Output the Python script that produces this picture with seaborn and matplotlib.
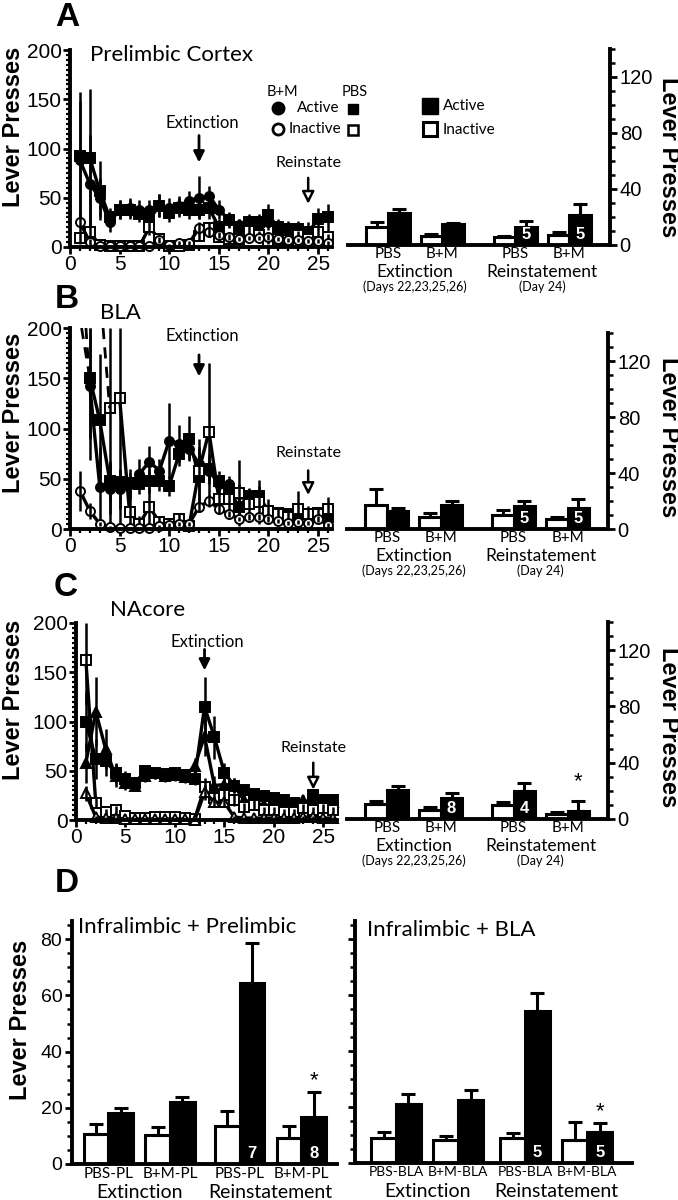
import numpy as np
import pandas as pd
import matplotlib
matplotlib.use("Agg")
import matplotlib.pyplot as plt
from matplotlib.ticker import MultipleLocator
import seaborn as sns

# ---------------- data ----------------
days = list(range(1, 27))

# Panel A - prelimbic cortex
pl_pbs_act = [92, 90, 57, 30, 38, 38, 33, 28, 42, 35, 40, 38, 38, 40, 20, 27, 20, 25, 25, 32, 20, 18, 18, 15, 28, 30]
pl_pbs_act_err = [65, 70, 30, 10, 10, 10, 8, 10, 12, 10, 10, 10, 10, 12, 8, 8, 8, 8, 8, 12, 8, 8, 8, 10, 12, 14]
pl_bm_act = [88, 64, 50, 25, 38, 40, 38, 38, 42, 40, 42, 47, 50, 52, 38, 28, 22, 22, 22, 25, 18, 16, 15, 10, 12, 10]
pl_bm_act_err = [60, 50, 20, 10, 10, 10, 10, 10, 12, 10, 10, 10, 22, 10, 10, 8, 6, 6, 6, 8, 5, 5, 5, 5, 5, 5]
pl_pbs_inact = [9, 15, 2, 1, 1, 1, 1, 20, 8, 1, 1, 2, 11, 19, 10, 8, 8, 16, 12, 5, 8, 7, 12, 8, 15, 10]
pl_pbs_inact_err = [6, 8, 1, 1, 1, 1, 1, 8, 3, 1, 1, 1, 4, 5, 3, 3, 3, 5, 4, 2, 3, 3, 4, 3, 5, 3]
pl_bm_inact = [25, 5, 1, 1, 1, 1, 1, 1, 7, 2, 4, 4, 19, 15, 12, 10, 8, 9, 9, 10, 8, 7, 7, 6, 6, 4]
pl_bm_inact_err = [10, 3, 1, 1, 1, 1, 1, 1, 3, 1, 2, 2, 6, 4, 3, 3, 2, 2, 2, 3, 2, 2, 2, 2, 2, 2]

# Panel B - BLA (values above 200 run off the axis)
bla_pbs_act = [210, 150, 108, 48, 47, 46, 45, 48, 48, 43, 75, 90, 52, 60, 48, 40, 22, 33, 33, 18, 16, 15, 15, 15, 16, 12]
bla_pbs_act_err = [60, 60, 66, 20, 12, 10, 10, 12, 10, 10, 12, 22, 30, 15, 10, 10, 8, 8, 10, 6, 5, 5, 5, 5, 6, 5]
bla_bm_act = [290, 142, 42, 40, 40, 45, 55, 67, 58, 88, 85, 80, 65, 58, 45, 45, 35, 32, 30, 15, 15, 14, 15, 15, 17, 14]
bla_bm_act_err = [60, 73, 40, 25, 20, 15, 15, 16, 12, 37, 18, 10, 12, 10, 8, 8, 10, 8, 8, 5, 5, 5, 5, 5, 5, 5]
bla_pbs_inact = [260, 250, 240, 120, 130, 17, 5, 22, 7, 5, 10, 3, 58, 97, 30, 30, 36, 25, 27, 18, 15, 12, 20, 15, 15, 20]
bla_pbs_inact_err = [50, 50, 50, 130, 130, 30, 8, 20, 5, 3, 6, 2, 32, 68, 10, 12, 33, 15, 22, 12, 6, 5, 18, 8, 6, 12]
bla_bm_inact = [38, 18, 5, 2, 1, 1, 1, 1, 3, 4, 5, 5, 22, 28, 20, 15, 10, 12, 12, 10, 8, 6, 7, 6, 10, 4]
bla_bm_inact_err = [20, 8, 2, 1, 1, 1, 1, 1, 1, 2, 2, 2, 5, 6, 4, 3, 2, 3, 3, 3, 2, 2, 2, 2, 3, 2]

# Panel C - NAcore
nac_pbs_act = [100, 62, 60, 48, 42, 38, 50, 48, 47, 48, 46, 42, 115, 84, 48, 35, 30, 26, 24, 22, 20, 17, 14, 25, 20, 20]
nac_pbs_act_err = [30, 20, 15, 10, 8, 6, 6, 6, 6, 6, 6, 6, 30, 22, 10, 8, 6, 5, 5, 5, 4, 4, 4, 6, 5, 5]
nac_bm_act = [58, 110, 72, 45, 38, 35, 45, 48, 45, 46, 44, 55, 85, 35, 36, 35, 20, 18, 15, 15, 14, 12, 20, 17, 18, 18]
nac_bm_act_err = [20, 35, 20, 12, 8, 6, 6, 6, 6, 6, 6, 8, 20, 10, 8, 8, 5, 4, 4, 4, 4, 4, 5, 4, 4, 4]
nac_pbs_inact = [162, 17, 8, 10, 4, 2, 2, 3, 3, 3, 2, 1, 33, 22, 25, 20, 13, 15, 10, 10, 8, 8, 12, 10, 12, 10]
nac_pbs_inact_err = [45, 5, 3, 4, 2, 1, 1, 1, 1, 1, 1, 1, 10, 8, 8, 6, 4, 5, 3, 3, 3, 3, 4, 3, 4, 3]
nac_bm_inact = [27, 3, 2, 2, 1, 1, 1, 1, 1, 1, 1, 0, 28, 18, 18, 3, 2, 2, 2, 2, 2, 2, 3, 3, 2, 2]
nac_bm_inact_err = [8, 1, 1, 1, 1, 1, 1, 1, 1, 1, 1, 0, 8, 5, 5, 1, 1, 1, 1, 1, 1, 1, 1, 1, 1, 1]

# bar summaries (A-C)
top_groups = ['PBS', 'B+M', 'PBS', 'B+M']
top_pos = [0, 1, 2.35, 3.35]
pl_bar_inact = [13.1, 6.4, 5.5, 7.1]
pl_bar_inact_err = [3.6, 1.2, 0.9, 2.4]
pl_bar_act = [22.6, 15.0, 13.1, 21.4]
pl_bar_act_err = [2.9, 1.0, 3.9, 7.9]
pl_bar_n = ['', '', '5', '5']

bla_bar_inact = [17.4, 8.4, 10.3, 7.2]
bla_bar_inact_err = [11.2, 3.1, 3.5, 1.4]
bla_bar_act = [13.1, 17.0, 16.2, 15.0]
bla_bar_act_err = [1.9, 3.3, 3.6, 6.7]
bla_bar_n = ['', '', '5', '5']

nac_bar_inact = [10.6, 6.6, 10.2, 3.5]
nac_bar_inact_err = [2.4, 1.7, 1.6, 1.2]
nac_bar_act = [20.8, 14.9, 19.6, 5.4]
nac_bar_act_err = [2.4, 3.5, 5.9, 7.6]
nac_bar_n = ['', '8', '4', '']

# Panel D
d_left_groups = ['PBS-PL', 'B+M-PL', 'PBS-PL', 'B+M-PL']
d_left_pos = [0, 1, 2.13, 3.13]
d_left_inact = [10.6, 10.4, 13.6, 9.4]
d_left_inact_err = [3.6, 2.6, 5.1, 4.2]
d_left_act = [18.1, 21.9, 64.3, 16.9]
d_left_act_err = [1.8, 1.8, 14.2, 8.7]
d_left_n = ['', '', '7', '8']

d_right_groups = ['PBS-BLA', 'B+M-BLA', 'PBS-BLA', 'B+M-BLA']
d_right_pos = [0, 1, 2.07, 3.07]
d_right_inact = [8.9, 8.1, 8.8, 8.1]
d_right_inact_err = [2.3, 1.4, 1.9, 6.5]
d_right_act = [21.2, 22.6, 54.4, 11.0]
d_right_act_err = [3.6, 3.4, 6.3, 3.2]
d_right_n = ['', '', '5', '5']

# ---------------- style ----------------
sns.set_style("ticks")
plt.rcParams['font.family'] = ['Liberation Sans', 'DejaVu Sans']
plt.rcParams['axes.linewidth'] = 2.2
for key in ['text.color', 'axes.labelcolor', 'xtick.color', 'ytick.color', 'axes.edgecolor']:
    plt.rcParams[key] = 'black'
TXT = ['Lato', 'DejaVu Sans']
W, H = 678, 1200

fig = plt.figure(figsize=(6.78, 12), dpi=100)


def px_axes(left, top, right, bottom):
    ax = fig.add_axes([left / W, 1 - bottom / H, (right - left) / W, (bottom - top) / H])
    ax.patch.set_alpha(0)
    return ax


def line_panel(ax, series):
    for vals, errs, marker, face in series:
        df = pd.DataFrame({'day': days, 'value': vals, 'sem': errs})
        on = df[df['value'] <= 200]
        sns.lineplot(data=on, x='day', y='value', ax=ax, color='black', lw=2.4,
                     marker=marker, markersize=6.5 if marker != '^' else 7.5,
                     markerfacecolor=face, markeredgecolor='black',
                     markeredgewidth=1.4, errorbar=None, clip_on=False)
        lo = np.maximum(on['value'] - on['sem'], 0)
        hi = np.minimum(on['value'] + on['sem'], 200)
        ax.vlines(on['day'], lo, hi, color='black', lw=1.8, clip_on=False)
        # segments leaving the axis are dashed
        v = df['value'].values
        for i in range(len(v) - 1):
            if (v[i] > 200) != (v[i + 1] > 200):
                t = (200 - v[i]) / (v[i + 1] - v[i])
                xc = days[i] + t
                if v[i] > 200:
                    ax.plot([xc, days[i + 1]], [200, v[i + 1]], color='black', lw=2, ls=(0, (4, 3)))
                else:
                    ax.plot([days[i], xc], [v[i], 200], color='black', lw=2, ls=(0, (4, 3)))
    ax.set_xlim(0, 26.4)
    ax.set_ylim(0, 200)
    ax.xaxis.set_major_locator(MultipleLocator(5))
    ax.xaxis.set_minor_locator(MultipleLocator(1))
    ax.yaxis.set_major_locator(MultipleLocator(50))
    ax.yaxis.set_minor_locator(MultipleLocator(5))
    ax.tick_params(which='major', length=5, width=2, labelsize=15, pad=1)
    ax.tick_params(which='minor', length=3, width=1.6)
    sns.despine(ax=ax)
    for s in ['left', 'bottom']:
        ax.spines[s].set_linewidth(2.8)
    ax.set_xlabel('')
    ax.set_ylabel('')


def arrows(ax, ext_day, ext_text, ext_tail, ext_tip, rein_text, rein_tail, rein_tip, rein_label):
    ax.text(ext_day + 0.3, ext_text, 'Extinction', ha='center', va='center',
            fontsize=12, family=TXT, clip_on=False)
    ax.annotate('', xy=(ext_day, ext_tip), xytext=(ext_day, ext_tail),
                arrowprops=dict(arrowstyle='-|>', lw=2, color='black', mutation_scale=16),
                annotation_clip=False)
    ax.text(24, rein_text, rein_label, ha='center', va='center',
            fontsize=11.5, family=TXT, clip_on=False)
    ax.annotate('', xy=(24, rein_tip), xytext=(24, rein_tail),
                arrowprops=dict(arrowstyle='-|>', lw=1.8, fc='white', ec='black',
                                mutation_scale=18),
                annotation_clip=False)


def bar_panel(ax, pos, groups, inact, inact_err, act, act_err, nlabels, star_off=None):
    df = pd.DataFrame({'pos': [float(p) for p in pos] * 2,
                       'lever': ['Inactive'] * 4 + ['Active'] * 4,
                       'value': inact + act})
    sns.barplot(data=df, x='pos', y='value', hue='lever', hue_order=['Inactive', 'Active'],
                palette={'Inactive': 'white', 'Active': 'black'}, native_scale=True,
                edgecolor='black', linewidth=2.2, errorbar=None, legend=False, ax=ax)
    centers = []
    for cont, errs in zip(ax.containers, [inact_err, act_err]):
        cs = []
        for bar, e in zip(cont, errs):
            xc = bar.get_x() + bar.get_width() / 2
            top = bar.get_height()
            ax.errorbar(xc, top, yerr=[[0], [e]], fmt='none', ecolor='black',
                        elinewidth=2.2, capsize=5, capthick=2.2, zorder=1)
            cs.append((xc, top + e))
        centers.append(cs)
    for (xc, _), lab in zip(centers[1], nlabels):
        if lab:
            ax.annotate(lab, xy=(xc, 0), xytext=(0, 2.5), textcoords='offset points',
                        ha='center', va='bottom', color='white', fontweight='bold', fontsize=12)
    if star_off is not None:
        xc, yt = centers[1][3]
        ax.annotate('*', xy=(xc, yt), xytext=(0, star_off), textcoords='offset points',
                    ha='center', va='bottom', fontsize=16)
    ax.set_xticks(pos)
    ax.set_xticklabels(groups, family=TXT)
    ax.set_xlabel('')
    ax.set_ylabel('')


def group_text(ax, pos, sizes, offs, subs=None):
    mids = [(pos[0] + pos[1]) / 2, (pos[2] + pos[3]) / 2]
    for m, name in zip(mids, ['Extinction', 'Reinstatement']):
        ax.annotate(name, xy=(m, 0), xycoords=('data', 'axes fraction'), xytext=(0, offs[0]),
                    textcoords='offset points', ha='center', va='center',
                    fontsize=sizes[0], family=TXT, annotation_clip=False)
    if subs:
        for m, name in zip(mids, subs):
            ax.annotate(name, xy=(m, 0), xycoords=('data', 'axes fraction'), xytext=(0, offs[1]),
                        textcoords='offset points', ha='center', va='center',
                        fontsize=sizes[1], family=TXT, annotation_clip=False)


def style_top_bar(ax):
    ax.set_xlim(-0.74, 4.1)
    ax.set_ylim(0, 140)
    ax.spines['left'].set_visible(False)
    ax.spines['top'].set_visible(False)
    ax.spines['right'].set_visible(True)
    ax.spines['right'].set_linewidth(2.8)
    ax.spines['bottom'].set_linewidth(2.8)
    ax.yaxis.tick_right()
    ax.yaxis.set_major_locator(MultipleLocator(40))
    ax.yaxis.set_minor_locator(MultipleLocator(10))
    ax.tick_params(axis='y', which='major', length=5, width=2, labelsize=14.5, pad=2)
    ax.tick_params(axis='y', which='minor', length=3.5, width=1.8)
    ax.tick_params(axis='x', length=0, labelsize=11, pad=1.5)
    group_text(ax, top_pos, (12.5, 9), (-19.5, -30), ['(Days 22,23,25,26)', '(Day 24)'])


def style_d(ax, pos, xlim, labels=True, label_size=11):
    ax.set_xlim(*xlim)
    ax.set_ylim(0, 86.5)
    sns.despine(ax=ax)
    ax.spines['left'].set_linewidth(2.8)
    ax.spines['bottom'].set_linewidth(2.8)
    ax.yaxis.set_major_locator(MultipleLocator(20))
    ax.yaxis.set_minor_locator(MultipleLocator(5))
    ax.tick_params(axis='y', which='major', length=5, width=2, labelsize=14, pad=2,
                   labelleft=labels)
    ax.tick_params(axis='y', which='minor', length=3.5, width=1.8)
    ax.tick_params(axis='x', length=0, labelsize=label_size, pad=2.5)
    group_text(ax, pos, (14, 0), (-20.5, 0))


# ---------------- line panels ----------------
axA = px_axes(70, 50, 332, 247)
line_panel(axA, [(pl_pbs_act, pl_pbs_act_err, 's', 'black'),
                 (pl_bm_act, pl_bm_act_err, 'o', 'black'),
                 (pl_pbs_inact, pl_pbs_inact_err, 's', 'white'),
                 (pl_bm_inact, pl_bm_inact_err, 'o', 'white')])
axA.text(2.0, 195, 'Prelimbic Cortex', ha='left', va='center', fontsize=16, family=TXT)
arrows(axA, 13, 126, 116, 83, 85, 73, 41, 'Reinstate')

axB = px_axes(70, 328, 332, 529)
line_panel(axB, [(bla_pbs_act, bla_pbs_act_err, 's', 'black'),
                 (bla_bm_act, bla_bm_act_err, 'o', 'black'),
                 (bla_pbs_inact, bla_pbs_inact_err, 's', 'white'),
                 (bla_bm_inact, bla_bm_inact_err, 'o', 'white')])
axB.text(3.0, 215, 'BLA', ha='left', va='center', fontsize=16, family=TXT, clip_on=False)
arrows(axB, 13, 192, 176, 149, 76, 61, 31, 'Reinstate')

axC = px_axes(76, 623, 337, 820)
line_panel(axC, [(nac_pbs_act, nac_pbs_act_err, 's', 'black'),
                 (nac_bm_act, nac_bm_act_err, '^', 'black'),
                 (nac_pbs_inact, nac_pbs_inact_err, 's', 'white'),
                 (nac_bm_inact, nac_bm_inact_err, '^', 'white')])
axC.text(3.4, 213, 'NAcore', ha='left', va='center', fontsize=16, family=TXT, clip_on=False)
arrows(axC, 13, 181, 176, 149, 73, 61, 28, 'Reinstate')

# ---------------- bar panels A-C ----------------
bA = px_axes(348, 49, 610, 245)
bar_panel(bA, top_pos, top_groups, pl_bar_inact, pl_bar_inact_err, pl_bar_act, pl_bar_act_err, pl_bar_n)
style_top_bar(bA)

bB = px_axes(347, 333, 608, 529)
bar_panel(bB, top_pos, top_groups, bla_bar_inact, bla_bar_inact_err, bla_bar_act, bla_bar_act_err, bla_bar_n)
style_top_bar(bB)

bC = px_axes(347, 622, 608, 819)
bar_panel(bC, top_pos, top_groups, nac_bar_inact, nac_bar_inact_err, nac_bar_act, nac_bar_act_err,
          nac_bar_n, star_off=6)
style_top_bar(bC)

# ---------------- panel D ----------------
dL = px_axes(72, 921, 337, 1164)
bar_panel(dL, d_left_pos, d_left_groups, d_left_inact, d_left_inact_err, d_left_act, d_left_act_err,
          d_left_n, star_off=1)
style_d(dL, d_left_pos, (-0.588, 3.707), label_size=11)

dR = px_axes(355, 921, 632, 1163)
bar_panel(dR, d_right_pos, d_right_groups, d_right_inact, d_right_inact_err, d_right_act,
          d_right_act_err, d_right_n, star_off=1)
style_d(dR, d_right_pos, (-0.658, 3.788), labels=False, label_size=10)

# ---------------- overlay text / legend ----------------
cv = fig.add_axes([0, 0, 1, 1], zorder=10)
cv.set_xlim(0, W)
cv.set_ylim(H, 0)
cv.axis('off')
cv.patch.set_alpha(0)

for lab, x, y in [('A', 67, 18), ('B', 67, 300), ('C', 66, 588), ('D', 67, 883)]:
    cv.text(x, y, lab, ha='center', va='center', fontsize=24, fontweight='bold')

for y in [127, 413, 700]:
    cv.text(14, y, 'Lever Presses', rotation=90, ha='center', va='center',
            fontsize=17, fontweight='bold')
for y in [157, 437, 727]:
    cv.text(668, y, 'Lever Presses', rotation=-90, ha='center', va='center',
            fontsize=17, fontweight='bold')
cv.text(21, 1020, 'Lever Presses', rotation=90, ha='center', va='center',
        fontsize=17, fontweight='bold')

cv.text(78, 927, 'Infralimbic + Prelimbic', ha='left', va='center', fontsize=16, family=TXT)
cv.text(367, 930, 'Infralimbic + BLA', ha='left', va='center', fontsize=16, family=TXT)

# legend of panel A
cv.text(282, 92, 'B+M', ha='center', va='center', fontsize=10.5, family=TXT)
cv.text(355, 92, 'PBS', ha='center', va='center', fontsize=10.5, family=TXT)
cv.plot([278], [108], 'o', ms=9, mfc='black', mec='black')
cv.plot([278], [129], 'o', ms=8, mfc='white', mec='black', mew=2)
cv.plot([353], [109], 's', ms=7, mfc='black', mec='black')
cv.plot([353], [130], 's', ms=7, mfc='white', mec='black', mew=1.8)
cv.text(297, 108, 'Active', ha='left', va='center', fontsize=11, family=TXT)
cv.text(289, 129, 'Inactive', ha='left', va='center', fontsize=11, family=TXT)
cv.plot([430], [106], 's', ms=11, mfc='black', mec='black')
cv.plot([430], [129], 's', ms=10, mfc='white', mec='black', mew=2.2)
cv.text(443, 106, 'Active', ha='left', va='center', fontsize=11, family=TXT)
cv.text(443, 130, 'Inactive', ha='left', va='center', fontsize=11, family=TXT)

fig.savefig('out.png', dpi=100)
